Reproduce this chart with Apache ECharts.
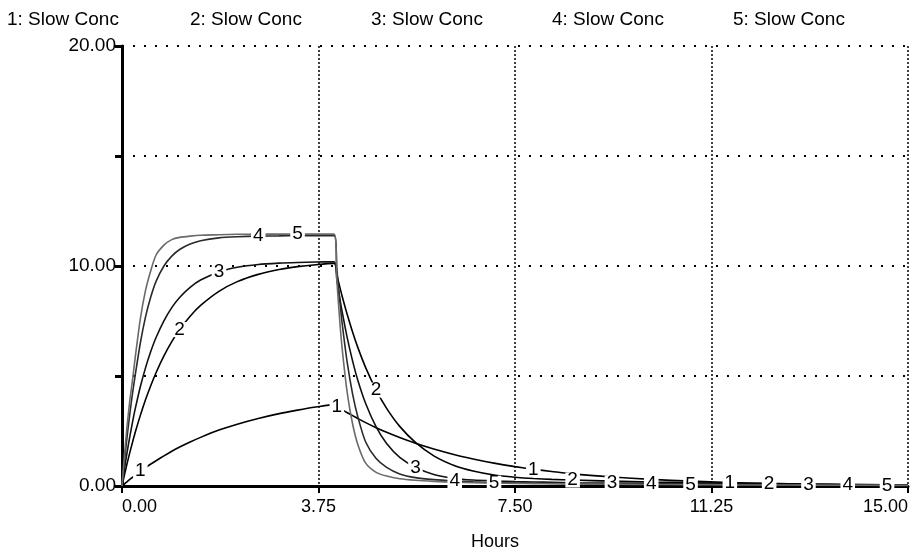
<!DOCTYPE html>
<html>
<head>
<meta charset="utf-8">
<script src="https://cdn.jsdelivr.net/npm/echarts@6/dist/echarts.min.js"></script>
<style>
  html, body { margin: 0; padding: 0; background: #fff; }
  #chart { width: 915px; height: 559px; }
</style>
</head>
<body>
<div id="chart"></div>
<script>
// Simulation time (hours) at which each run was sampled
const hours = [
  0, 0.05, 0.1, 0.15, 0.2, 0.25, 0.35, 0.45, 0.55, 0.65, 0.8, 0.95, 1.1, 1.3, 1.5, 1.85, 2.2, 2.6, 3.0, 3.35, 3.7, 4.05,
  4.1, 4.15, 4.2, 4.3, 4.4, 4.5, 4.65, 4.85, 5.05, 5.3,
  5.6, 5.95, 6.35, 6.7, 7.1, 7.5, 7.85, 8.2, 8.6,
  9.35, 10.1, 10.85, 11.6, 12.35, 13.1, 13.85, 14.6, 15
];

// Slow Conc, runs 1..5
const slow1 = [
  0, 0.10, 0.20, 0.30, 0.39, 0.49, 0.67, 0.84, 1.00, 1.15, 1.37, 1.58, 1.77, 2.00, 2.21, 2.54, 2.81, 3.07, 3.29, 3.45, 3.59, 3.70,
  3.62, 3.55, 3.47, 3.33, 3.20, 3.07, 2.88, 2.65, 2.44, 2.20,
  1.94, 1.68, 1.42, 1.23, 1.04, 0.88, 0.76, 0.66, 0.55,
  0.41, 0.30, 0.22, 0.16, 0.12, 0.09, 0.07, 0.05, 0.04
];
const slow2 = [
  0, 0.54, 1.05, 1.53, 1.98, 2.42, 3.21, 3.93, 4.57, 5.15, 5.91, 6.56, 7.11, 7.72, 8.21, 8.85, 9.29, 9.62, 9.84, 9.97, 10.06, 10.12,
  9.60, 9.11, 8.64, 7.78, 7.00, 6.30, 5.38, 4.36, 3.53, 2.71,
  1.98, 1.37, 0.92, 0.68, 0.50, 0.40, 0.34, 0.30, 0.27,
  0.22, 0.18, 0.15, 0.12, 0.10, 0.08, 0.07, 0.06, 0.05
];
const slow3 = [
  0, 0.82, 1.57, 2.26, 2.89, 3.48, 4.51, 5.38, 6.12, 6.75, 7.51, 8.11, 8.57, 9.03, 9.36, 9.73, 9.94, 10.07, 10.13, 10.16, 10.18, 10.19,
  9.38, 8.62, 7.94, 6.72, 5.69, 4.81, 3.75, 2.69, 1.93, 1.30,
  0.85, 0.52, 0.34, 0.27, 0.23, 0.20, 0.18, 0.17, 0.15,
  0.13, 0.11, 0.09, 0.08, 0.07, 0.06, 0.05, 0.045, 0.04
];
const slow4 = [
  0, 1.2, 2.3, 3.3, 4.2, 5.0, 6.5, 7.7, 8.6, 9.3, 10.0, 10.45, 10.75, 11.0, 11.15, 11.28, 11.33, 11.36, 11.37, 11.38, 11.38, 11.38,
  9.88, 8.57, 7.43, 5.58, 4.19, 3.15, 2.00, 1.25, 0.85, 0.55,
  0.38, 0.29, 0.23, 0.19, 0.16, 0.14, 0.13, 0.12, 0.11,
  0.09, 0.08, 0.07, 0.06, 0.05, 0.045, 0.04, 0.035, 0.03
];
const slow5 = [
  0, 1.5, 2.8, 3.9, 4.8, 5.8, 7.6, 8.9, 9.8, 10.5, 10.95, 11.2, 11.3, 11.36, 11.4, 11.42, 11.44, 11.45, 11.45, 11.45, 11.45, 11.45,
  9.37, 7.68, 6.28, 4.21, 2.83, 1.89, 1.04, 0.62, 0.45, 0.33,
  0.26, 0.21, 0.17, 0.15, 0.13, 0.12, 0.11, 0.10, 0.09,
  0.08, 0.07, 0.06, 0.05, 0.045, 0.04, 0.035, 0.03, 0.03
];

const runNames = ['1', '2', '3', '4', '5'];
const runTitle = 'Slow Conc';
const xAxisTitle = 'Hours';

// Hours at which each run's number tag sits on its curve
const tagHours = [
  [0.35, 4.1, 7.85, 11.6],
  [1.1, 4.85, 8.6, 12.35],
  [1.85, 5.6, 9.35, 13.1],
  [2.6, 6.35, 10.1, 13.85],
  [3.35, 7.1, 10.85, 14.6]
];

const runs = [slow1, slow2, slow3, slow4, slow5];
const lineColors = ['#000', '#000', '#111', '#2a2a2a', '#6a6a6a'];
const font = 'Liberation Sans, Arial, Helvetica, sans-serif';

const lineSeries = runs.map((vals, k) => ({
  name: runNames[k],
  type: 'line',
  data: hours.map((h, i) => [h, vals[i]]),
  symbol: 'none',
  smooth: 0.25,
  lineStyle: { color: lineColors[k], width: 1.6 },
  z: 2,
  silent: true
}));

// Run number tags drawn on each curve; the white box breaks the lines under the digit
const tagSeries = runs.map((vals, k) => ({
  name: runNames[k] + '-tag',
  type: 'scatter',
  data: tagHours[k].map(h => [h, vals[hours.indexOf(h)]]),
  symbol: 'circle',
  symbolSize: 2,
  itemStyle: { color: 'rgba(255,255,255,0)', opacity: 1 },
  z: 4,
  label: {
    show: true,
    position: 'inside',
    formatter: () => runNames[k],
    color: '#000',
    textBorderWidth: 0,
    textBorderColor: 'transparent',
    fontFamily: font,
    fontSize: 19,
    backgroundColor: '#fff',
    padding: [0, 2, 0, 2],
    lineHeight: 15
  },
  labelLayout: { hideOverlap: false },
  silent: true
}));

const legendLeft = [7, 190, 371, 552, 733];

const chart = echarts.init(document.getElementById('chart'), null, { renderer: 'canvas' });
chart.setOption({
  backgroundColor: '#fff',
  animation: false,
  grid: { left: 122, right: 7, top: 46, bottom: 73, containLabel: false },
  xAxis: {
    type: 'value',
    min: 0,
    max: 15,
    interval: 3.75,
    axisLine: { show: true, onZero: false, lineStyle: { color: '#000', width: 3 } },
    axisTick: { show: true, length: 7, lineStyle: { color: '#000', width: 2 } },
    axisLabel: {
      formatter: v => v.toFixed(2),
      color: '#000',
      fontFamily: font,
      fontSize: 18,
      margin: 12,
      alignMinLabel: 'left',
      alignMaxLabel: 'right'
    },
    splitLine: { show: true, lineStyle: { color: '#000', type: [2, 2], width: 1.5 } }
  },
  yAxis: {
    type: 'value',
    min: 0,
    max: 20,
    interval: 5,
    axisLine: { show: true, onZero: false, lineStyle: { color: '#000', width: 3 } },
    axisTick: { show: true, length: 7, lineStyle: { color: '#000', width: 3 } },
    axisLabel: {
      formatter: v => (v % 10 === 0 ? v.toFixed(2) : ''),
      color: '#000',
      fontFamily: font,
      fontSize: 19,
      margin: 6
    },
    splitLine: { show: true, lineStyle: { color: '#000', type: [2, 9], width: 2 } }
  },
  graphic: runNames.map((n, k) => ({
    type: 'text',
    left: legendLeft[k],
    top: 10,
    style: { text: n + ': ' + runTitle, font: '19px ' + font, fill: '#000' }
  })).concat([{
    type: 'text',
    left: 471,
    top: 533,
    style: { text: xAxisTitle, font: '18px ' + font, fill: '#000' }
  }]),
  series: lineSeries.concat(tagSeries)
});
</script>
</body>
</html>
